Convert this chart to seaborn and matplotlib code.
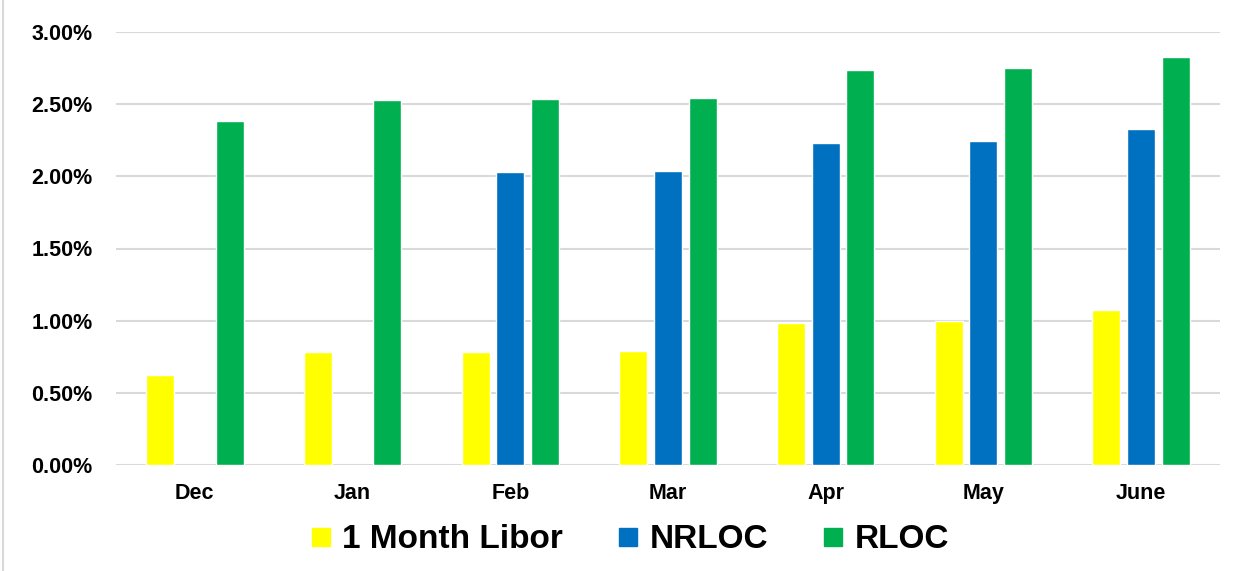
import numpy as np
import pandas as pd
import matplotlib
matplotlib.use("Agg")
import matplotlib.pyplot as plt
from matplotlib.ticker import PercentFormatter
from matplotlib.lines import Line2D
import seaborn as sns

MONTHS = ["Dec", "Jan", "Feb", "Mar", "Apr", "May", "June"]
SERIES = ["1 Month Libor", "NRLOC", "RLOC"]

libor = [0.625, 0.78, 0.78, 0.79, 0.985, 1.00, 1.075]
nrloc = [np.nan, np.nan, 2.03, 2.04, 2.23, 2.245, 2.33]
rloc  = [2.38, 2.53, 2.535, 2.545, 2.74, 2.75, 2.83]

COLORS = ["#FFFF00", "#0070C0", "#00B050"]

df = pd.DataFrame({
    "month": MONTHS * 3,
    "series": [s for s in SERIES for _ in MONTHS],
    "value": libor + nrloc + rloc,
})

sns.set_theme(style="white")
plt.rcParams["font.family"] = ["Liberation Sans", "DejaVu Sans"]
plt.rcParams["text.color"] = "black"
plt.rcParams["xtick.color"] = "black"
plt.rcParams["ytick.color"] = "black"

fig = plt.figure(figsize=(12.47, 5.71), dpi=100)
ax = fig.add_axes([116 / 1247, 1 - 465 / 571, (1220 - 116) / 1247, (465 - 32) / 571])

sns.barplot(
    data=df, x="month", y="value", hue="series",
    order=MONTHS, hue_order=SERIES, palette=COLORS,
    width=0.66, gap=0.19, saturation=1, ax=ax, legend=False,
)

ax.set_ylim(0, 3.0)
ax.set_yticks(np.arange(0, 3.01, 0.5))
ax.yaxis.set_major_formatter(PercentFormatter(decimals=2))
ax.grid(axis="y", color="#D9D9D9", linewidth=1.5)
ax.set_axisbelow(True)
for s in ax.spines.values():
    s.set_visible(False)
ax.set_xlabel("")
ax.set_ylabel("")
ax.tick_params(axis="both", length=0, labelsize=15.5)
ax.tick_params(axis="y", pad=17)
ax.tick_params(axis="x", pad=13)
for lbl in ax.get_xticklabels() + ax.get_yticklabels():
    lbl.set_fontweight("bold")

handles = [Line2D([0], [0], marker="s", linestyle="", markersize=12.5,
                  markerfacecolor=c, markeredgecolor=c) for c in COLORS]
fig.legend(handles, SERIES, loc="center", bbox_to_anchor=(630 / 1247, 1 - 540 / 571),
           ncol=3, frameon=False, handlelength=0.6, handletextpad=0.35,
           columnspacing=1.65, prop={"size": 24, "weight": "bold"})

fig.add_artist(Line2D([3 / 1247, 3 / 1247], [0, 1], color="#D9D9D9", linewidth=1.5))

fig.savefig("out.png", dpi=100)
